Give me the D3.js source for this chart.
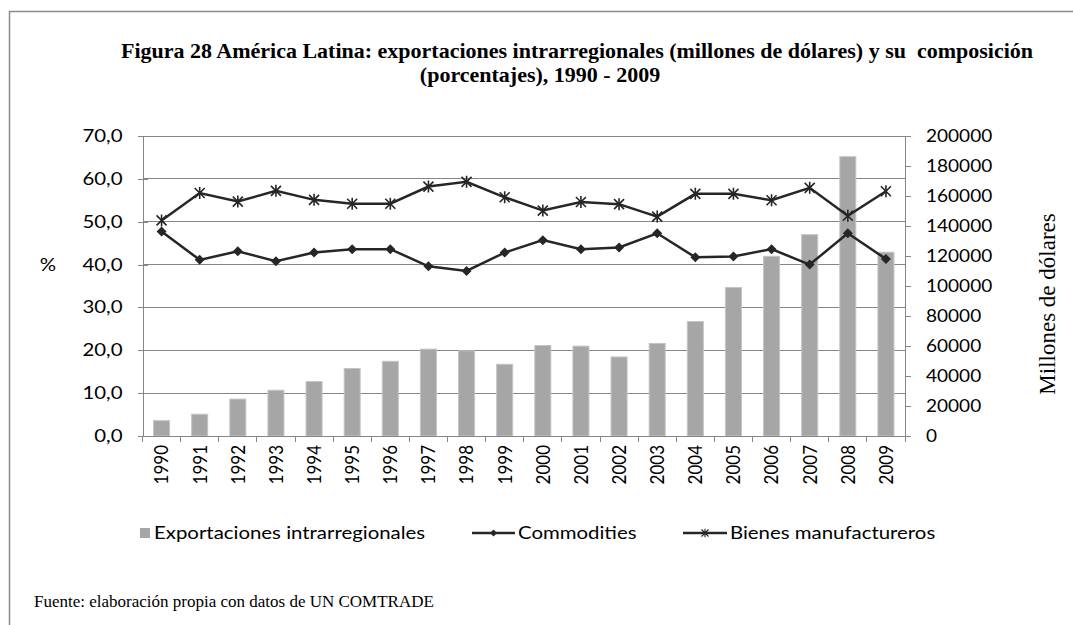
<!DOCTYPE html>
<html lang="es">
<head>
<meta charset="UTF-8">
<title>Figura 28</title>
<script src="https://cdn.jsdelivr.net/npm/d3@7"></script>
<style>
    body { margin: 0; background: #fff; }
    .axis text { font-family: Lato, "Open Sans", sans-serif; font-size: 17px; fill: #000; }
    .axis path, .axis line { stroke: #868686; shape-rendering: crispEdges; }
    .grid line { stroke: #868686; shape-rendering: crispEdges; }
    .serif { font-family: "Liberation Serif", "Times New Roman", serif; white-space: pre; }
    .sans { font-family: Lato, "Open Sans", sans-serif; }
</style>
</head>
<body>
<svg id="vis" width="1073" height="625"></svg>
<script>
    // valores
    let years = ["1990", "1991", "1992", "1993", "1994", "1995", "1996", "1997", "1998", "1999",
                 "2000", "2001", "2002", "2003", "2004", "2005", "2006", "2007", "2008", "2009"];
    let exportaciones = [10200, 14500, 24600, 30500, 36300, 45000, 49800, 57900, 56800, 47800,
                         60300, 59900, 52700, 61700, 76300, 99000, 119800, 134200, 186200, 122500];
    let commodities = [47.7, 41.1, 43.1, 40.8, 42.8, 43.6, 43.6, 39.6, 38.5, 42.8,
                       45.7, 43.6, 44.0, 47.3, 41.7, 41.9, 43.6, 40.0, 47.3, 41.3];
    let bienes = [50.3, 56.7, 54.7, 57.2, 55.1, 54.2, 54.2, 58.2, 59.3, 55.7,
                  52.6, 54.6, 54.1, 51.2, 56.5, 56.5, 55.0, 57.9, 51.4, 57.1];
    let pctTicks = [0, 10, 20, 30, 40, 50, 60, 70];
    let usdTicks = [0, 20000, 40000, 60000, 80000, 100000, 120000, 140000, 160000, 180000, 200000];

    let svg = d3.select("#vis");
    let margin = { top: 136, right: 168, bottom: 189, left: 142.5 };
    let width = 1073, height = 625;

    // el texto del original está algo ensanchado
    function stretch(sel, s) {
        sel.each(function() {
            let t = d3.select(this);
            let x0 = +t.attr("x") || 0;
            t.attr("x", x0 / s).attr("transform", "scale(" + s + ",1)");
        });
    }

    // marco
    svg.append("rect")
        .attr("x", 9.5).attr("y", 11.5)
        .attr("width", 1100).attr("height", 700)
        .attr("fill", "none").attr("stroke", "#8c8c8c").attr("stroke-width", 1.5);

    // título
    let title = svg.append("text").attr("class", "serif")
        .attr("text-anchor", "middle").attr("font-weight", "bold").attr("font-size", 22);
    title.append("tspan").attr("x", 577).attr("y", 58)
        .text("Figura 28 América Latina: exportaciones intrarregionales (millones de dólares) y su  composición");
    title.append("tspan").attr("x", 540).attr("y", 82)
        .text("(porcentajes), 1990 - 2009");

    let x = d3.scaleBand().domain(years)
        .range([margin.left, width - margin.right])
        .paddingInner(0.58).paddingOuter(0.29);
    let y = d3.scaleLinear().domain([0, 70]).range([height - margin.bottom, margin.top]);
    let y2 = d3.scaleLinear().domain([0, 200000]).range([height - margin.bottom, margin.top]);
    let cx = (d) => x(d) + x.bandwidth() / 2;

    // líneas de cuadrícula
    svg.append("g").attr("class", "grid")
        .selectAll("line").data(pctTicks.slice(1)).join("line")
        .attr("x1", margin.left).attr("x2", width - margin.right)
        .attr("y1", (d) => y(d)).attr("y2", (d) => y(d));

    // barras
    svg.selectAll(".bar")
        .data(years.map((yr, i) => [yr, exportaciones[i]]))
        .join("rect")
        .attr("class", "bar")
        .attr("x", (d) => x(d[0]))
        .attr("y", (d) => y2(d[1]))
        .attr("width", x.bandwidth())
        .attr("height", (d) => y2(0) - y2(d[1]))
        .attr("fill", "#a6a6a6")
        .attr("stroke", "#c4c4c4").attr("stroke-width", 1);

    // ejes
    let yAxis = svg.append("g").attr("class", "axis")
        .attr("transform", "translate(" + margin.left + ",0)")
        .call(d3.axisLeft(y).tickValues(pctTicks).tickSize(5).tickPadding(15)
            .tickFormat((d) => d3.format(".1f")(d).replace(".", ",")))
        .call((g) => g.selectAll(".tick line").attr("x2", 5).attr("x1", -5));
    stretch(yAxis.selectAll(".tick text"), 1.2);

    let y2Axis = svg.append("g").attr("class", "axis")
        .attr("transform", "translate(" + (width - margin.right) + ",0)")
        .call(d3.axisRight(y2).tickValues(usdTicks).tickSize(6).tickPadding(15)
            .tickFormat(d3.format("d")));
    stretch(y2Axis.selectAll(".tick text"), 1.12);

    let xAxis = svg.append("g").attr("class", "axis")
        .attr("transform", "translate(0," + (height - margin.bottom) + ")")
        .call(d3.axisBottom(x).tickSize(0).tickSizeOuter(0));
    xAxis.selectAll(".tick text")
        .attr("transform", "scale(1.15,1) rotate(-90)")
        .attr("text-anchor", "end")
        .attr("x", -9).attr("y", 0).attr("dy", "0.35em");
    // marcas entre categorías
    xAxis.selectAll(".sep").data(d3.range(years.length + 1)).join("line")
        .attr("class", "sep")
        .attr("x1", (i) => margin.left + i * x.step())
        .attr("x2", (i) => margin.left + i * x.step())
        .attr("y1", 0).attr("y2", 6)
        .attr("stroke", "#868686");

    // líneas
    let line = d3.line().x((d) => cx(d[0])).y((d) => y(d[1]));
    let comData = years.map((yr, i) => [yr, commodities[i]]);
    let bienData = years.map((yr, i) => [yr, bienes[i]]);

    svg.append("path").datum(comData).attr("d", line)
        .attr("fill", "none").attr("stroke", "#262626").attr("stroke-width", 2.5);
    svg.append("path").datum(bienData).attr("d", line)
        .attr("fill", "none").attr("stroke", "#262626").attr("stroke-width", 2.5);

    let diamond = "M0,-5L5,0L0,5L-5,0Z";
    let star = "M-5,-5L5,5M-5,5L5,-5M0,-6L0,6";

    svg.selectAll(".dia").data(comData).join("path").attr("class", "dia")
        .attr("transform", (d) => "translate(" + cx(d[0]) + "," + y(d[1]) + ")")
        .attr("d", diamond).attr("fill", "#262626");
    svg.selectAll(".star").data(bienData).join("path").attr("class", "star")
        .attr("transform", (d) => "translate(" + cx(d[0]) + "," + y(d[1]) + ")")
        .attr("d", star).attr("fill", "none").attr("stroke", "#262626").attr("stroke-width", 1.6);

    // títulos de ejes
    let pct = svg.append("text").attr("class", "sans")
        .attr("x", 48).attr("y", 265).attr("dy", "0.35em")
        .attr("text-anchor", "middle").attr("font-size", 17).text("%");
    stretch(pct, 1.2);
    svg.append("text").attr("class", "serif")
        .attr("transform", "translate(1047,304) rotate(-90)")
        .attr("text-anchor", "middle").attr("dy", "0.35em").attr("font-size", 23)
        .text("Millones de dólares");

    // leyenda
    let legY = 533;
    let leg = svg.append("g").attr("class", "sans").attr("font-size", 17);
    leg.append("rect").attr("x", 140).attr("y", legY - 5).attr("width", 10).attr("height", 10)
        .attr("fill", "#a6a6a6");
    leg.append("text").attr("x", 154).attr("y", legY).attr("dy", "0.35em")
        .text("Exportaciones intrarregionales");

    leg.append("line").attr("x1", 472).attr("x2", 515).attr("y1", legY).attr("y2", legY)
        .attr("stroke", "#262626").attr("stroke-width", 2.5);
    leg.append("path").attr("transform", "translate(493.5," + legY + ") scale(0.7)")
        .attr("d", diamond).attr("fill", "#262626");
    leg.append("text").attr("x", 518).attr("y", legY).attr("dy", "0.35em").text("Commodities");

    leg.append("line").attr("x1", 683).attr("x2", 727).attr("y1", legY).attr("y2", legY)
        .attr("stroke", "#262626").attr("stroke-width", 2.5);
    leg.append("path").attr("transform", "translate(705," + legY + ") scale(0.7)")
        .attr("d", star).attr("fill", "none").attr("stroke", "#262626").attr("stroke-width", 1.6);
    leg.append("text").attr("x", 730).attr("y", legY).attr("dy", "0.35em").text("Bienes manufactureros");
    stretch(leg.selectAll("text"), 1.2);

    // fuente
    svg.append("text").attr("class", "serif")
        .attr("x", 34).attr("y", 607).attr("font-size", 17)
        .text("Fuente: elaboración propia con datos de UN COMTRADE");
</script>
</body>
</html>
